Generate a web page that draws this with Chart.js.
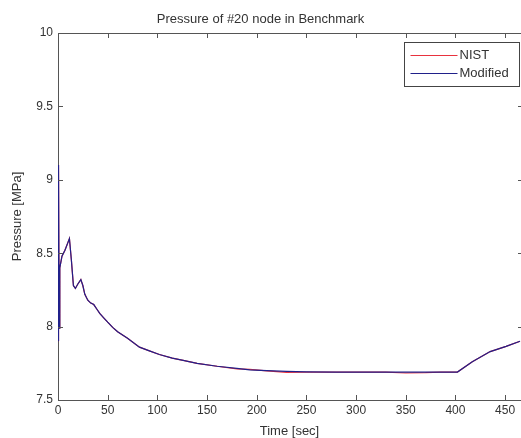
<!DOCTYPE html>
<html>
<head>
<meta charset="utf-8">
<script src="https://cdn.jsdelivr.net/npm/chart.js@4/dist/chart.umd.min.js"></script>
<style>
  html, body { margin: 0; padding: 0; background: #fff; }
  #wrap { width: 521px; height: 438px; }
</style>
</head>
<body>
<div id="wrap"><canvas id="myChart"></canvas></div>
<script>
// time [sec]
const time = [
  0, 0.3, 0.7, 1.2, 1.8, 4, 7, 11.5, 13.5, 15.5, 17.5, 20, 23, 25, 27, 30,
  33, 36, 39, 42, 46, 50, 55, 60, 70, 82, 92, 102, 115, 126, 140, 160,
  180, 193, 210, 230, 250, 280, 300, 330, 350, 370, 385, 402, 417, 435, 451, 465
];
// pressure [MPa]
const modified = [
  8.40, 7.90, 9.10, 7.99, 8.40, 8.48, 8.52, 8.60, 8.45, 8.28, 8.26, 8.29, 8.32, 8.28, 8.22, 8.18,
  8.16, 8.15, 8.12, 8.09, 8.06, 8.03, 7.995, 7.965, 7.92, 7.86, 7.835, 7.81, 7.785, 7.77, 7.75, 7.73,
  7.715, 7.705, 7.70, 7.695, 7.692, 7.69, 7.69, 7.69, 7.69, 7.69, 7.69, 7.69, 7.76, 7.83, 7.865, 7.90
];
const nist = [
  8.40, 7.90, 9.10, 7.99, 8.40, 8.48, 8.52, 8.60, 8.45, 8.28, 8.26, 8.29, 8.32, 8.28, 8.22, 8.18,
  8.16, 8.15, 8.12, 8.09, 8.06, 8.03, 7.995, 7.965, 7.92, 7.86, 7.835, 7.81, 7.785, 7.77, 7.75, 7.73,
  7.712, 7.708, 7.698, 7.688, 7.69, 7.69, 7.69, 7.69, 7.684, 7.686, 7.69, 7.69, 7.76, 7.83, 7.865, 7.90
];
const yTicks = [7.5, 8, 8.5, 9, 9.5, 10];

const FONT = '"Liberation Sans", Arial, sans-serif';
const TXT = '#333';
const AX = '#555';
const RED = '#e8323e';
const BLUE = '#20208a';

function pts(t, v) {
  return t.map((x, i) => ({ x: x, y: v[i] }));
}

// matlab style box: top line, inward ticks, boxed legend
const boxPlugin = {
  id: 'box',
  afterDatasetsDraw(chart) {
    const { ctx, chartArea: a, scales: { x, y } } = chart;
    ctx.save();
    ctx.strokeStyle = AX;
    ctx.lineWidth = 1;
    ctx.beginPath();
    ctx.moveTo(a.left, a.top + 0.5);
    ctx.lineTo(a.right, a.top + 0.5);
    x.ticks.forEach(t => {
      const px = Math.round(x.getPixelForValue(t.value)) + 0.5;
      ctx.moveTo(px, a.bottom);
      ctx.lineTo(px, a.bottom - 5);
      ctx.moveTo(px, a.top);
      ctx.lineTo(px, a.top + 5);
    });
    y.ticks.forEach(t => {
      const py = Math.round(y.getPixelForValue(t.value)) + 0.5;
      ctx.moveTo(a.left, py);
      ctx.lineTo(a.left + 5, py);
      ctx.moveTo(a.right + 2, py);
      ctx.lineTo(a.right - 3, py);
    });
    ctx.stroke();

    // legend
    const bx = Math.round(a.right - 117) + 0.5, by = Math.round(a.top + 9) + 0.5, bw = 115, bh = 44;
    ctx.fillStyle = '#fff';
    ctx.fillRect(bx, by, bw, bh);
    ctx.strokeStyle = '#444';
    ctx.strokeRect(bx, by, bw, bh);
    ctx.font = '13px ' + FONT;
    ctx.textBaseline = 'middle';
    const cols = [RED, BLUE];
    chart.data.datasets.forEach((ds, i) => {
      const ly = by + 13 + i * 18;
      ctx.strokeStyle = cols[i];
      ctx.lineWidth = 1.2;
      ctx.beginPath();
      ctx.moveTo(bx + 6, ly);
      ctx.lineTo(bx + 53, ly);
      ctx.stroke();
      ctx.fillStyle = TXT;
      ctx.fillText(ds.label, bx + 55, ly);
    });
    ctx.restore();
  }
};

const config = {
  type: 'line',
  data: {
    datasets: [
      {
        label: 'NIST',
        data: pts(time, nist),
        borderColor: RED,
        borderWidth: 1.2,
        pointRadius: 0,
        tension: 0,
        order: 1
      },
      {
        label: 'Modified',
        data: pts(time, modified),
        borderColor: BLUE,
        borderWidth: 1.2,
        pointRadius: 0,
        tension: 0,
        order: 0
      }
    ]
  },
  options: {
    responsive: true,
    maintainAspectRatio: false,
    animation: false,
    layout: { padding: 0 },
    plugins: {
      legend: { display: false },
      tooltip: { enabled: false },
      title: {
        display: true,
        text: 'Pressure of #20 node in Benchmark',
        color: TXT,
        font: { family: FONT, size: 13, weight: 'normal', lineHeight: 1.2 },
        padding: { top: 12, bottom: 5.4 }
      }
    },
    scales: {
      x: {
        type: 'linear',
        min: 0,
        max: 466,
        afterFit: s => { s.height = 38; },
        grid: { display: false, drawTicks: false },
        border: { display: true, color: AX },
        ticks: {
          stepSize: 50,
          includeBounds: false,
          maxRotation: 0,
          padding: 3,
          color: TXT,
          font: { family: FONT, size: 12 }
        },
        title: {
          display: true,
          text: 'Time [sec]',
          color: TXT,
          font: { family: FONT, size: 13, lineHeight: 1 },
          padding: 0
        }
      },
      y: {
        type: 'linear',
        min: yTicks[0],
        max: yTicks[yTicks.length - 1],
        afterFit: s => { s.width = 58; },
        afterBuildTicks: s => { s.ticks = yTicks.map(v => ({ value: v })); },
        grid: { display: false, drawTicks: false },
        border: { display: true, color: AX },
        ticks: {
          padding: 5,
          color: TXT,
          font: { family: FONT, size: 12 },
          callback: v => String(v)
        },
        title: {
          display: true,
          text: 'Pressure [MPa]',
          color: TXT,
          font: { family: FONT, size: 13, lineHeight: 1 },
          padding: { top: 11, bottom: 0 }
        }
      }
    }
  },
  plugins: [boxPlugin]
};

var myChart = new Chart(document.getElementById('myChart'), config);
</script>
</body>
</html>
